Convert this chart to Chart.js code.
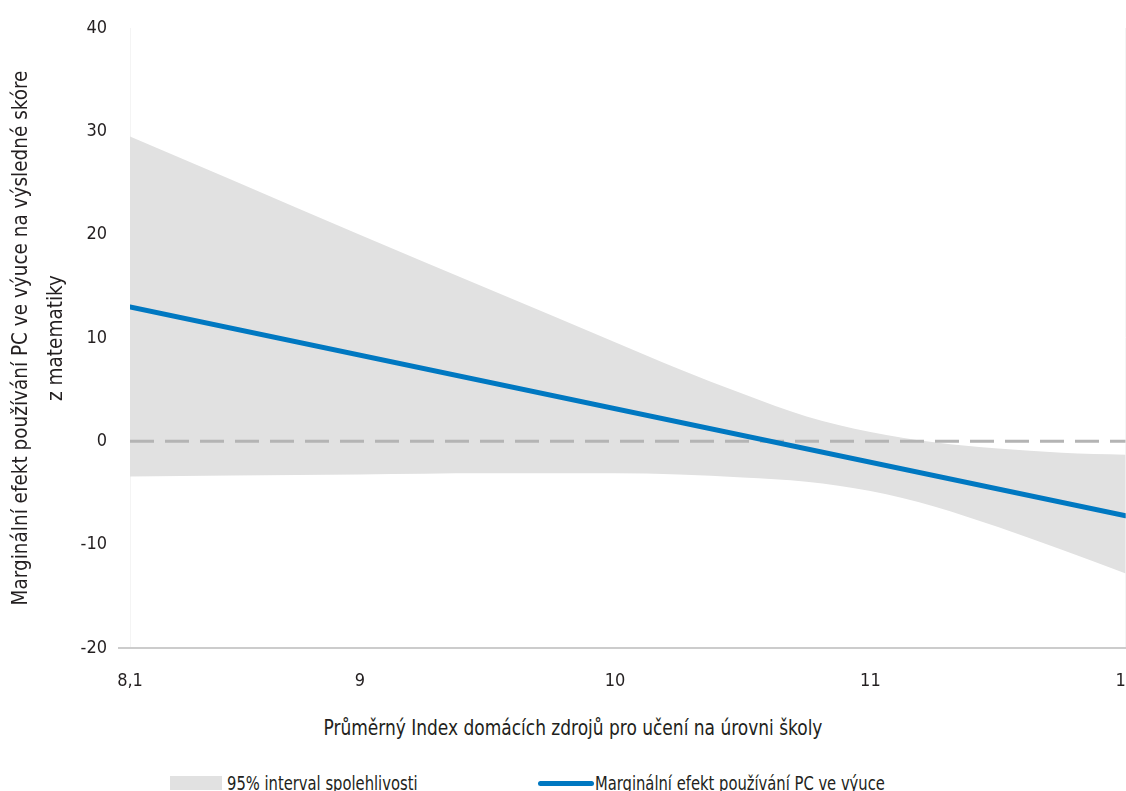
<!DOCTYPE html>
<html lang="cs">
<head>
<meta charset="utf-8">
<title>Marginální efekt používání PC ve výuce</title>
<script src="https://cdn.jsdelivr.net/npm/chart.js@4.4.1/dist/chart.umd.min.js"></script>
<style>
    html, body { margin: 0; padding: 0; background: #fff; overflow: hidden; }
    #graf { position: relative; width: 1160px; height: 791px; }
    #chartEfecto { position: absolute; left: 0; top: 0; }
    #tituloX {
        position: absolute; left: 0; top: 714px; width: 1146px;
        text-align: center; font-size: 22px; line-height: 28px; color: #231f20;
        transform: scaleX(0.86);
    }
    .leyenda-item {
        position: absolute; top: 771px; display: flex; align-items: center;
        font-size: 20px; line-height: 24px; color: #231f20; white-space: nowrap;
    }
    .leyenda-texto { display: inline-block; transform: scaleX(0.82); transform-origin: left center; }
    .leyenda-caja { width: 52px; height: 14px; margin-right: 5px; }
    .leyenda-linea { width: 56px; height: 5px; border-radius: 3px; margin-right: 1px; }
</style>
</head>
<body>
<div id="graf">
    <canvas id="chartEfecto" width="1159" height="708"></canvas>
    <div id="tituloX"></div>
</div>

<script>
// ============================================================
//  Marginální efekt používání PC — graf s intervalem spolehlivosti
// ============================================================

// ── Datos ──
const X_BANDA   = [8.1, 8.5, 9, 9.5, 10, 10.25, 10.5, 10.75, 11, 11.25, 11.5, 11.75, 12];
const CI_HORNI  = [29.5, 25.3, 20.0, 14.8, 9.6, 7.0, 4.6, 2.4, 0.9, -0.1, -0.7, -1.1, -1.3];
const CI_DOLNI  = [-3.4, -3.3, -3.2, -3.1, -3.1, -3.2, -3.5, -3.9, -4.8, -6.3, -8.3, -10.5, -12.8];
const X_EFEKT   = [8.1, 12];
const EFEKT     = [13.0, -7.2];
const X_TICKS   = [8.1, 9, 10, 11, 12];
const Y_TICKS   = [-20, -10, 0, 10, 20, 30, 40];

const TITULO_Y  = ['Marginální efekt používání PC ve výuce na výsledné skóre', 'z matematiky'];
const TITULO_X  = 'Průměrný Index domácích zdrojů pro učení na úrovni školy';
const ETIQ_BANDA = '95% interval spolehlivosti';
const ETIQ_EFEKT = 'Marginální efekt používání PC ve výuce';

const AZUL  = '#0078c1';
const GRIS  = '#e1e1e1';
const GUION = '#b4b4b4';
const TEXTO = '#231f20';

// ── Elegir una fuente estrecha instalada ──
function elegirFuente(candidatas) {
    const ctx = document.createElement('canvas').getContext('2d');
    const muestra = 'Marginální efekt 0123456789';
    ctx.font = '40px monospace';
    const base = ctx.measureText(muestra).width;
    for (const f of candidatas) {
        ctx.font = `40px "${f}", monospace`;
        if (ctx.measureText(muestra).width !== base) return f;
    }
    return 'Liberation Sans';
}

const FUENTE = elegirFuente(['Liberation Sans Narrow', 'DejaVu Sans Condensed', 'Liberation Sans']);
document.body.style.fontFamily = `"${FUENTE}", sans-serif`;

const pares = (xs, ys) => xs.map((x, i) => ({ x, y: ys[i] }));
const coma  = v => String(v).replace('.', ',');
const esBorde = v => v === X_TICKS[0] || v === X_TICKS[X_TICKS.length - 1];

// ── Título X y leyenda (HTML) ──
document.getElementById('tituloX').textContent = TITULO_X;

function pintarLeyenda() {
    const graf = document.getElementById('graf');
    const items = [
        { texto: ETIQ_BANDA, clase: 'leyenda-caja',  color: GRIS, left: 170 },
        { texto: ETIQ_EFEKT, clase: 'leyenda-linea', color: AZUL, left: 538 },
    ];
    items.forEach(it => {
        const el = document.createElement('div');
        el.className = 'leyenda-item';
        el.style.left = `${it.left}px`;
        el.innerHTML = `<span class="${it.clase}" style="background:${it.color}"></span><span class="leyenda-texto">${it.texto}</span>`;
        graf.appendChild(el);
    });
}
pintarLeyenda();

// ── Gráfico ──
Chart.defaults.font.family = `"${FUENTE}", sans-serif`;
Chart.defaults.color = TEXTO;

const ctxEfecto = document.getElementById('chartEfecto').getContext('2d');
const chartEfecto = new Chart(ctxEfecto, {
    type: 'line',
    data: {
        datasets: [
            {
                label: ETIQ_EFEKT,
                data: pares(X_EFEKT, EFEKT),
                borderColor: AZUL,
                borderWidth: 5,
                borderCapStyle: 'round',
                pointRadius: 0,
                fill: false,
            },
            {
                label: 'nula',
                data: pares([X_TICKS[0], X_TICKS[X_TICKS.length - 1]], [0, 0]),
                borderColor: GUION,
                borderWidth: 3,
                borderDash: [24, 11],
                pointRadius: 0,
                fill: false,
            },
            {
                label: ETIQ_BANDA,
                data: pares(X_BANDA, CI_HORNI),
                borderWidth: 0,
                borderColor: 'transparent',
                backgroundColor: GRIS,
                pointRadius: 0,
                cubicInterpolationMode: 'monotone',
                fill: '+1',
            },
            {
                label: ETIQ_BANDA + ' (dolní)',
                data: pares(X_BANDA, CI_DOLNI),
                borderWidth: 0,
                borderColor: 'transparent',
                pointRadius: 0,
                cubicInterpolationMode: 'monotone',
                fill: false,
            },
        ],
    },
    options: {
        responsive: false,
        animation: false,
        devicePixelRatio: 1,
        layout: { padding: { top: 28, right: 23, left: 0, bottom: 0 } },
        plugins: {
            legend: { display: false },
            tooltip: { enabled: false },
        },
        scales: {
            x: {
                type: 'linear',
                min: X_TICKS[0],
                max: X_TICKS[X_TICKS.length - 1],
                afterBuildTicks: s => { s.ticks = X_TICKS.map(v => ({ value: v })); },
                afterFit: s => { s.height = 60; },
                ticks: {
                    callback: v => coma(v),
                    font: { size: 18 },
                    padding: 23,
                    maxRotation: 0,
                },
                grid: {
                    drawTicks: false,
                    color: c => (c.tick && esBorde(c.tick.value)) ? '#f4f4f4' : 'transparent',
                },
                border: { color: '#cccccc', width: 2 },
            },
            y: {
                min: Y_TICKS[0],
                max: Y_TICKS[Y_TICKS.length - 1],
                afterBuildTicks: s => { s.ticks = Y_TICKS.map(v => ({ value: v })); },
                afterFit: s => { s.width = 130; },
                ticks: { font: { size: 18 }, padding: 11 },
                grid: {
                    drawOnChartArea: false,
                    tickLength: 12,
                    lineWidth: 2,
                    color: c => (c.tick && c.tick.value === Y_TICKS[0]) ? '#cccccc' : 'transparent',
                },
                border: { display: false },
                title: {
                    display: true,
                    text: TITULO_Y,
                    font: { size: 20.5, lineHeight: 1.7 },
                    padding: { top: 4, bottom: 0 },
                    color: TEXTO,
                },
            },
        },
    },
});
</script>
</body>
</html>
